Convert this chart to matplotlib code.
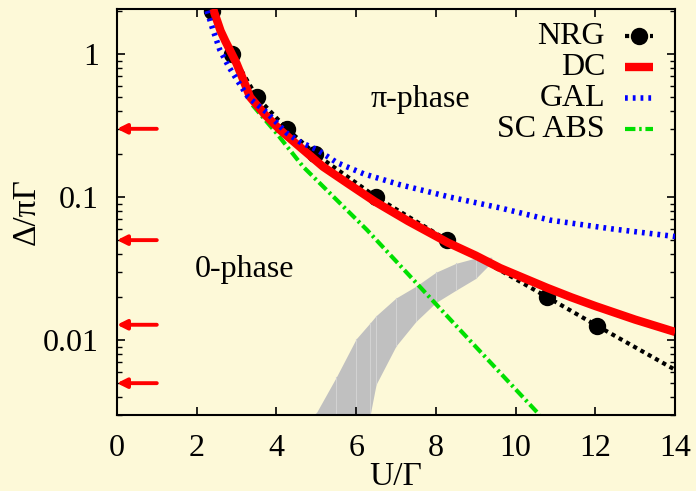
import matplotlib
matplotlib.use("Agg")
import matplotlib.pyplot as plt
from matplotlib.ticker import LogLocator, NullFormatter, FixedLocator

plt.rcParams['font.family'] = ['Liberation Serif', 'DejaVu Serif']

BG = "#fdf9d8"

# NRG points (U/Gamma, Delta/pi Gamma)
nrg_x = [2.38, 2.88, 3.51, 4.26, 4.98, 6.5, 8.28, 10.79, 12.04]
nrg_y = [2.0, 1.0, 0.5, 0.3, 0.2, 0.1, 0.05, 0.02, 0.0126]
# the NRG line runs on past the last point
nrg_tail_x = [12.04, 14.0]
nrg_tail_y = [0.0126, 0.0062]

dc_x = [2.41, 2.5, 2.6, 2.72, 2.83, 3.0, 3.15, 3.34, 3.7, 4.09, 4.59, 5.17, 5.8, 6.47, 7.3, 8.3, 9.0, 9.61, 10.2, 10.79, 11.4, 12.0, 13.0, 14.0]
dc_y = [2.07, 1.75, 1.45, 1.23, 1.07, 0.86, 0.68, 0.5, 0.38, 0.295, 0.224, 0.163, 0.124, 0.093, 0.068, 0.048, 0.039, 0.0319, 0.0272, 0.0232, 0.0199, 0.0173, 0.0139, 0.0114]

gal_x = [2.26, 2.4, 2.58, 2.8, 3.01, 3.29, 3.76, 4.26, 4.59, 5.02, 5.52, 6.2, 7.1, 8.35, 9.61, 10.86, 12.4, 14.0]
gal_y = [2.0, 1.5, 1.07, 0.82, 0.66, 0.5, 0.39, 0.28, 0.243, 0.214, 0.174, 0.145, 0.122, 0.1, 0.084, 0.069, 0.06, 0.053]

sc_x = [3.4, 4.0, 4.67, 6.27, 8.53, 10.6]
sc_y = [0.44, 0.28, 0.163, 0.059, 0.0124, 0.003]

# grey band
band_x = [4.9, 5.0, 5.5, 6.0, 6.35, 6.5, 7.0, 7.5, 8.0, 8.5, 9.0, 9.4]
band_hi = [0.0028, 0.0031, 0.0055, 0.0102, 0.0132, 0.0148, 0.0197, 0.0238, 0.0298, 0.0344, 0.0375, 0.038]
band_lo = [0.001, 0.001, 0.001, 0.001, 0.003, 0.0049, 0.0091, 0.0135, 0.0183, 0.0223, 0.027, 0.035]

arrow_y = [0.3, 0.05, 0.0128, 0.005]

fig = plt.figure(figsize=(6.96, 4.91), dpi=100, facecolor=BG)
ax = fig.add_axes([0.168, 0.155, 0.802, 0.827])
ax.set_facecolor(BG)

ax.fill_between(band_x, band_lo, band_hi, color="#c0c0c0", lw=0, zorder=1)
for bx, lo, hi in zip(band_x[1:-1], band_lo[1:-1], band_hi[1:-1]):
    ax.plot([bx, bx], [lo, hi], color="#d2d2d2", lw=0.8, zorder=1.1)

sc_style = dict(color="#00e000", lw=3, dashes=(2.5, 0.9, 0.6, 0.9))
nrg_style = dict(color="black", lw=3, dashes=(1, 1))
nrg_mark = dict(marker="o", ms=10.5, mfc="black", mec="black", mew=2)
dc_style = dict(color="red", lw=6, solid_capstyle="butt")
gal_style = dict(color="blue", lw=4, dashes=(0.5, 0.9))

ax.plot(sc_x, sc_y, zorder=2, **sc_style)
ax.plot(nrg_tail_x, nrg_tail_y, zorder=3, **nrg_style)
ax.plot(nrg_x, nrg_y, zorder=3, **nrg_style, **nrg_mark)
ax.plot(dc_x, dc_y, zorder=4, **dc_style)
ax.plot(gal_x, gal_y, zorder=5, **gal_style)

for yv in arrow_y:
    ax.annotate("", xy=(0.0, yv), xytext=(1.0, yv),
                arrowprops=dict(arrowstyle="-|>", color="red", lw=2.8,
                                mutation_scale=14, shrinkA=0, shrinkB=0), zorder=6)

ax.set_yscale("log")
ax.set_xlim(0, 14)
ax.set_ylim(0.003, 2.07)
ax.set_xticks(range(0, 15, 2))
ax.yaxis.set_major_locator(FixedLocator([0.01, 0.1, 1]))
ax.set_yticklabels(["0.01", "0.1", "1"])
ax.yaxis.set_minor_locator(LogLocator(base=10, subs=range(2, 10)))
ax.yaxis.set_minor_formatter(NullFormatter())

ax.tick_params(which="both", direction="in", top=True, right=True, colors="black", labelsize=23)
ax.tick_params(which="major", length=6, width=1.2)
ax.tick_params(which="minor", length=3.5, width=1.0)
ax.tick_params(axis="y", pad=13)
ax.tick_params(axis="x", pad=14)
for s in ax.spines.values():
    s.set_linewidth(1.5)

ax.set_xlabel("U/Γ", fontsize=24, labelpad=-1)
ax.set_ylabel("Δ/πΓ", fontsize=24, labelpad=1)

ax.text(7.6, 0.48, "π-phase", fontsize=23, ha="center", va="center")
ax.text(3.21, 0.031, "0-phase", fontsize=23, ha="center", va="center")

# key, drawn by hand so rows sit as tight as in the original
key = [("NRG", nrg_style, nrg_mark), ("DC", dc_style, {}),
       ("GAL", gal_style, {}), ("SC ABS", sc_style, {})]
for i, (name, st, mk) in enumerate(key):
    yk = 0.933 - i * 0.0765
    ax.text(0.8746, yk, name, transform=ax.transAxes, fontsize=23,
            ha="right", va="center")
    ax.plot([0.910, 0.9606], [yk, yk], transform=ax.transAxes, clip_on=False, **st)
    if mk:
        ax.plot([0.935], [yk], transform=ax.transAxes, clip_on=False, ls="none", **mk)

fig.savefig("out.png", dpi=100, facecolor=BG)
